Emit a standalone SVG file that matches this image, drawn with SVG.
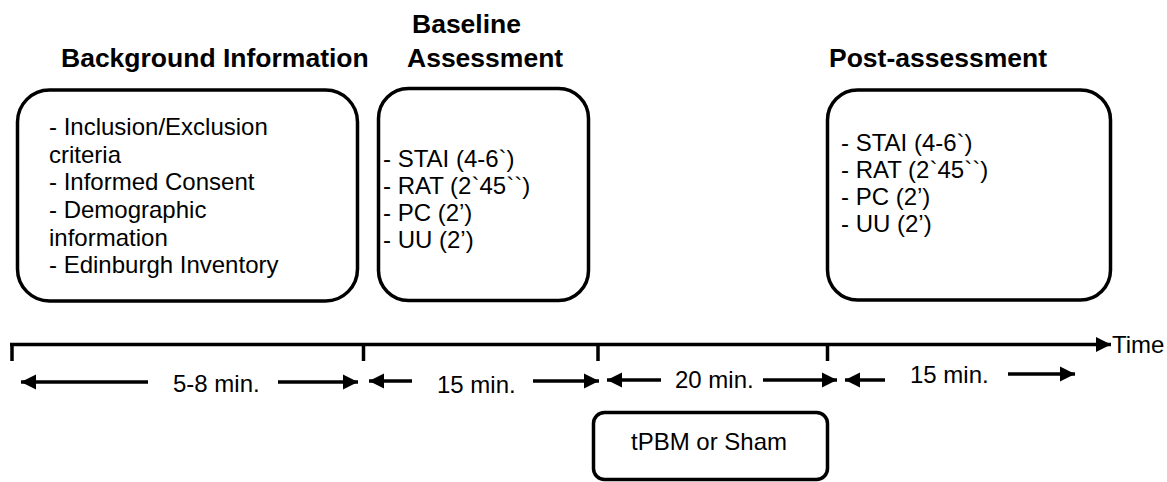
<svg xmlns="http://www.w3.org/2000/svg" width="1167" height="482" viewBox="0 0 1167 482">
<defs>
<marker id="ah" markerUnits="userSpaceOnUse" markerWidth="16" markerHeight="16" refX="15" refY="8" orient="auto">
<path d="M0,0.5 L15,8 L0,15.5 Z" fill="#000"/>
</marker>
<style>
.box{fill:#fff;stroke:#000;stroke-width:3.5}
.title{font-family:"Liberation Sans",Arial,sans-serif;font-weight:bold;font-size:26.5px;fill:#000}
.txt{font-family:"Liberation Sans",Arial,sans-serif;font-size:24px;fill:#000}
.ln{stroke:#000;stroke-width:3.5;fill:none}
.arr{stroke:#000;stroke-width:3.5;fill:none;marker-end:url(#ah)}
</style>
</defs>
<rect width="1167" height="482" fill="#fff"/>

<g id="background">
<text class="title" x="61" y="67">Background Information</text>
<rect class="box" x="17.5" y="90" width="340" height="211" rx="32"/>
<text class="txt" x="49" y="135">- Inclusion/Exclusion</text>
<text class="txt" x="49" y="163">criteria</text>
<text class="txt" x="49" y="190">- Informed Consent</text>
<text class="txt" x="49" y="218">- Demographic</text>
<text class="txt" x="49" y="246">information</text>
<text class="txt" x="49" y="273">- Edinburgh Inventory</text>
</g>

<g id="baseline">
<text class="title" x="412" y="33">Baseline</text>
<text class="title" x="407" y="67">Assessment</text>
<rect class="box" x="378.5" y="88.5" width="210" height="212" rx="30"/>
<text class="txt" x="383" y="167">- STAI (4-6`)</text>
<text class="txt" x="383" y="194">- RAT (2`45``)</text>
<text class="txt" x="383" y="221">- PC (2’)</text>
<text class="txt" x="383" y="248">- UU (2’)</text>
</g>

<g id="post">
<text class="title" x="829" y="67">Post-assessment</text>
<rect class="box" x="827.5" y="90" width="283" height="210" rx="30"/>
<text class="txt" x="841" y="151">- STAI (4-6`)</text>
<text class="txt" x="841" y="178">- RAT (2`45``)</text>
<text class="txt" x="841" y="205">- PC (2’)</text>
<text class="txt" x="841" y="232">- UU (2’)</text>
</g>

<g id="treatment">
<rect class="box" x="593.5" y="412.5" width="234" height="67" rx="11"/>
<text class="txt" x="709" y="450" text-anchor="middle" font-size="26">tPBM or Sham</text>
</g>

<g id="connectors">
<line class="arr" x1="10" y1="344.5" x2="1111" y2="344.5"/>
<line class="ln" x1="12" y1="343" x2="12" y2="361"/>
<line class="ln" x1="363.5" y1="343" x2="363.5" y2="361"/>
<line class="ln" x1="598" y1="343" x2="598" y2="361"/>
<line class="ln" x1="827.5" y1="343" x2="827.5" y2="361"/>

<line class="arr" x1="148" y1="382" x2="21" y2="382"/>
<line class="arr" x1="278" y1="382" x2="358" y2="382"/>
<line class="arr" x1="412" y1="381" x2="369" y2="381"/>
<line class="arr" x1="533" y1="381" x2="599" y2="381"/>
<line class="arr" x1="661" y1="380" x2="607" y2="380"/>
<line class="arr" x1="763" y1="380" x2="837" y2="380"/>
<line class="arr" x1="885" y1="380" x2="845" y2="380"/>
<line class="arr" x1="1008" y1="374" x2="1075" y2="374"/>
</g>

<g id="labels">
<text class="txt" x="1112" y="353">Time</text>
<text class="txt" x="173" y="392">5-8 min.</text>
<text class="txt" x="437" y="393">15 min.</text>
<text class="txt" x="675" y="388">20 min.</text>
<text class="txt" x="910" y="383">15 min.</text>
</g>
</svg>
